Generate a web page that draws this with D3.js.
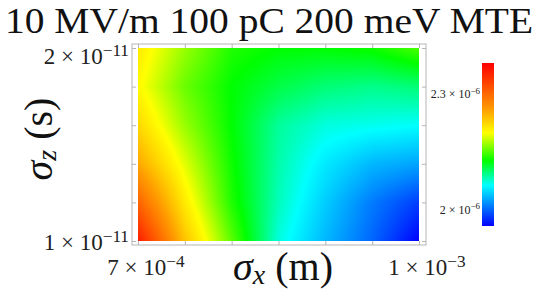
<!DOCTYPE html>
<html>
<head>
<meta charset="utf-8">
<script src="https://cdn.jsdelivr.net/npm/d3@7"></script>
<style>
  body { margin: 0; background: #fff; }
  text { font-family: "Liberation Serif", "DejaVu Serif", serif; }
</style>
</head>
<body>
<div id="chart"></div>
<script>
// grid of sigma_x (m) and sigma_z (s)
var sigmaX = [7.0e-4, 7.5e-4, 8.0e-4, 8.5e-4, 9.0e-4, 9.5e-4, 1.0e-3];
var sigmaZ = [1.0e-11, 1.2e-11, 1.4e-11, 1.6e-11, 1.8e-11, 2.0e-11];
// emittance values (units 1e-6), one row per sigmaZ entry
var emit = [
  [2.360, 2.237, 2.153, 2.072, 2.034, 2.000, 1.958],
  [2.305, 2.212, 2.136, 2.081, 2.043, 2.009, 1.983],
  [2.254, 2.191, 2.131, 2.085, 2.055, 2.034, 2.026],
  [2.224, 2.170, 2.127, 2.089, 2.072, 2.068, 2.064],
  [2.203, 2.157, 2.127, 2.110, 2.098, 2.093, 2.098],
  [2.212, 2.170, 2.136, 2.127, 2.127, 2.131, 2.148]
];
var xTickVals = [7.0e-4, 7.5e-4, 8.0e-4, 8.5e-4, 9.0e-4, 9.5e-4, 1.0e-3];
var yTickVals = [1.0e-11, 1.2e-11, 1.4e-11, 1.6e-11, 1.8e-11, 2.0e-11];
var xLabels = [{v: 7e-4, m: "7", e: "\u22124"}, {v: 1e-3, m: "1", e: "\u22123"}];
var yLabels = [{v: 1e-11, m: "1", e: "\u221211"}, {v: 2e-11, m: "2", e: "\u221211"}];
var cbRange = [1.958, 2.381];
var cbLabels = [{v: 2.0, m: "2", e: "\u22126"}, {v: 2.3, m: "2.3", e: "\u22126"}];

var W = 538, H = 293;
var svg = d3.select("#chart").append("svg")
  .attr("width", W).attr("height", H);

// title
svg.append("text")
  .attr("x", 5).attr("y", 33)
  .attr("font-size", 36)
  .attr("textLength", 528)
  .attr("lengthAdjust", "spacingAndGlyphs")
  .attr("fill", "#111")
  .text("10 MV/m 100 pC 200 meV MTE");

var x = d3.scaleLinear().domain([7e-4, 1e-3]).range([138, 419]);
var y = d3.scaleLinear().domain([1e-11, 2e-11]).range([241, 48]);

var stopT = [0, 0.25, 0.40, 0.57, 0.72, 1];
var color = d3.scaleLinear()
  .domain(stopT.map(function(t) { return cbRange[0] + t * (cbRange[1] - cbRange[0]); }))
  .range(["#0000ff", "#00ffff", "#00ff00", "#ffff00", "#ff9a00", "#ff0000"])
  .clamp(true);

// value at an arbitrary point, bilinear between grid nodes
function valueAt(sx, sz) {
  var i = Math.max(0, Math.min(sigmaX.length - 2, d3.bisectRight(sigmaX, sx) - 1));
  var j = Math.max(0, Math.min(sigmaZ.length - 2, d3.bisectRight(sigmaZ, sz) - 1));
  var fx = (sx - sigmaX[i]) / (sigmaX[i + 1] - sigmaX[i]);
  var fz = (sz - sigmaZ[j]) / (sigmaZ[j + 1] - sigmaZ[j]);
  var a = emit[j][i], b = emit[j][i + 1], c = emit[j + 1][i], d = emit[j + 1][i + 1];
  return (a * (1 - fx) + b * fx) * (1 - fz) + (c * (1 - fx) + d * fx) * fz;
}

// density field
var x0 = x.range()[0], x1 = x.range()[1], y0 = y.range()[1], y1 = y.range()[0];
var cw = Math.round(x1 - x0), ch = Math.round(y1 - y0);
var canvas = document.createElement("canvas");
canvas.width = cw; canvas.height = ch;
var ctx = canvas.getContext("2d");
var img = ctx.createImageData(cw, ch);
for (var py = 0; py < ch; py++) {
  for (var px = 0; px < cw; px++) {
    var v = valueAt(x.invert(x0 + px + 0.5), y.invert(y0 + py + 0.5));
    var c = d3.rgb(color(v));
    var k = (py * cw + px) * 4;
    img.data[k] = c.r; img.data[k + 1] = c.g; img.data[k + 2] = c.b; img.data[k + 3] = 255;
  }
}
ctx.putImageData(img, 0, 0);
svg.append("image")
  .attr("x", x0).attr("y", y0)
  .attr("width", cw).attr("height", ch)
  .attr("preserveAspectRatio", "none")
  .attr("href", canvas.toDataURL());

// frame + inward ticks
var fL = 132, fR = 426, fT = 44, fB = 245;
svg.append("rect")
  .attr("x", fL).attr("y", fT).attr("width", fR - fL).attr("height", fB - fT)
  .attr("fill", "none").attr("stroke", "#b5b5b5").attr("stroke-width", 1);

function frameAxis(axis, tx, ty) {
  var g = svg.append("g")
    .attr("transform", "translate(" + tx + "," + ty + ")")
    .call(axis.tickSizeInner(-4).tickSizeOuter(0).tickFormat(""));
  g.select(".domain").remove();
  g.selectAll("line").attr("stroke", "#b5b5b5");
}
frameAxis(d3.axisBottom(x).tickValues(xTickVals), 0, fB);
frameAxis(d3.axisTop(x).tickValues(xTickVals), 0, fT);
frameAxis(d3.axisLeft(y).tickValues(yTickVals), fL, 0);
frameAxis(d3.axisRight(y).tickValues(yTickVals), fR, 0);

// scientific labels "m × 10^e"
function sciLabel(g, d, size, anchor) {
  var t = g.append("text")
    .attr("font-size", size)
    .attr("fill", "#222")
    .attr("text-anchor", anchor);
  t.append("tspan").text(d.m + " \u00d7 10");
  t.append("tspan")
    .attr("font-size", size * 0.75)
    .attr("dy", -size * 0.36)
    .text(d.e);
  return t;
}

xLabels.forEach(function(d) {
  sciLabel(svg, d, 23, "middle").attr("x", x(d.v) + 8).attr("y", 275);
});
yLabels.forEach(function(d, i) {
  sciLabel(svg, d, 23, "end").attr("x", 129).attr("y", i === 0 ? 250 : 64);
});

// axis titles
var xt = svg.append("text")
  .attr("x", 283).attr("y", 280)
  .attr("font-size", 40)
  .attr("text-anchor", "middle")
  .attr("fill", "#111");
xt.append("tspan").attr("font-style", "italic").text("\u03c3");
xt.append("tspan").attr("font-style", "italic").attr("font-size", 28).attr("dy", 4).text("x");
xt.append("tspan").attr("dy", -4).text(" (m)");

var yt = svg.append("text")
  .attr("transform", "translate(52,139) rotate(-90)")
  .attr("font-size", 40)
  .attr("text-anchor", "middle")
  .attr("fill", "#111");
yt.append("tspan").attr("font-style", "italic").text("\u03c3");
yt.append("tspan").attr("font-style", "italic").attr("font-size", 28).attr("dy", 4).text("z");
yt.append("tspan").attr("dy", -4).text(" (s)");

// colour bar
var cb = d3.scaleLinear().domain(cbRange).range([226, 63]);
var defs = svg.append("defs");
var grad = defs.append("linearGradient")
  .attr("id", "cbgrad")
  .attr("x1", 0).attr("y1", 1).attr("x2", 0).attr("y2", 0);
grad.selectAll("stop")
  .data(color.domain())
  .enter().append("stop")
  .attr("offset", function(d) { return (d - cbRange[0]) / (cbRange[1] - cbRange[0]); })
  .attr("stop-color", function(d) { return color(d); });
svg.append("rect")
  .attr("x", 482).attr("y", cb(cbRange[1]))
  .attr("width", 12).attr("height", cb(cbRange[0]) - cb(cbRange[1]))
  .attr("fill", "url(#cbgrad)");

cbLabels.forEach(function(d) {
  sciLabel(svg, d, 12, "end").attr("x", 480).attr("y", cb(d.v) + 4);
});
</script>
</body>
</html>
